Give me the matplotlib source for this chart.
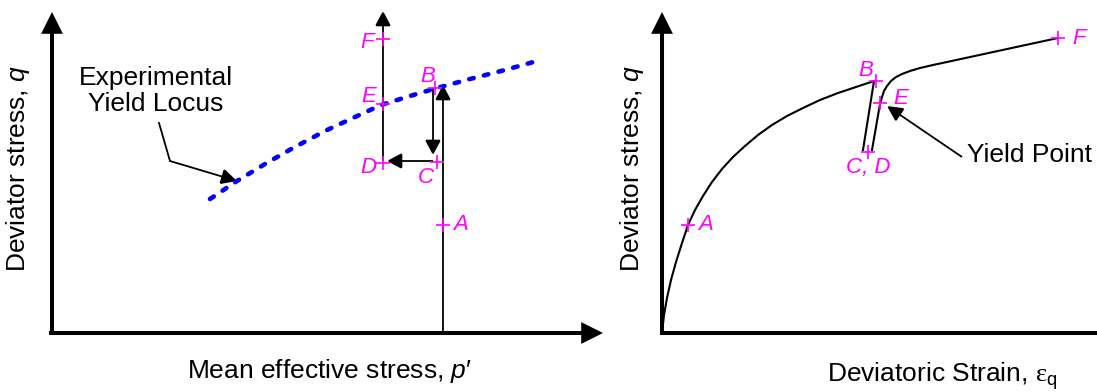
import matplotlib
matplotlib.use("Agg")
import matplotlib.pyplot as plt
from matplotlib.patches import FancyArrowPatch

plt.rcParams['font.family'] = ['Liberation Sans', 'DejaVu Sans']
plt.rcParams['mathtext.fontset'] = 'custom'
plt.rcParams['mathtext.rm'] = 'Liberation Sans'
plt.rcParams['mathtext.it'] = 'Liberation Sans:italic'
plt.rcParams['mathtext.cal'] = 'Liberation Serif'

# ---------------- stress path in p'-q space ----------------
state_names = ["A", "B", "C", "D", "E", "F"]
p_state = [391, 383, 385, 331, 331, 331]
q_state = [108, 245, 171, 170, 229, 294]

# path legs (start, end)
load_p, load_q = [391, 391], [0, 248]        # O -> B  (shearing up)
unload_p, unload_q = [381, 381], [245, 178]  # B -> C  (unloading)
shift_p, shift_q = [381, 335], [172, 172]    # C -> D  (reduce p')
reload_p, reload_q = [331, 331], [172, 322]  # D -> F  (reloading)

# experimental yield locus
locus_p = [158, 185, 213, 241, 273, 303, 329, 358, 385, 418, 453, 485]
locus_q = [134, 152, 169, 185, 202, 216, 228, 237, 245, 254, 263, 272]

# ---------------- stress-strain response ----------------
strain_names = ["A", "B", "C, D", "E", "F"]
eps_state = [26, 214, 206, 218, 396]
qs_state = [108, 252, 181, 230, 295]

load_eps = [0, 2, 5, 9, 14, 20, 26, 33, 41, 50, 60, 71, 83, 96, 110, 125,
            141, 158, 176, 194, 212]
load_qs = [0, 18, 35, 53, 71, 90, 108, 123, 137, 151, 164, 176, 187, 198,
           208, 217, 225, 233, 240, 246, 252]
unl_eps = [212, 201]
unl_qs = [252, 183]
rel_eps = [210, 218, 220, 222, 225, 229, 234, 240, 248, 258, 271, 285, 396]
rel_qs = [183, 229, 236, 242, 247, 252, 256, 259, 262, 265, 268, 271, 295]

MAG = (1, 0, 1)
W, H = 1097, 392
fig = plt.figure(figsize=(W / 100, H / 100), dpi=100)

axL = fig.add_axes([0, 0, 610 / W, 1])
axL.set_xlim(-52, 558)
axL.set_ylim(-59, 333)
axR = fig.add_axes([610 / W, 0, 487 / W, 1])
axR.set_xlim(-52, 435)
axR.set_ylim(-59, 333)
for ax in (axL, axR):
    ax.axis('off')


def arrow(ax, x, y, lw, hl, hw, clip=False):
    a = FancyArrowPatch((x[0], y[0]), (x[1], y[1]),
                        arrowstyle=f"-|>,head_length={hl},head_width={hw}",
                        mutation_scale=1, lw=lw, color='black',
                        shrinkA=0, shrinkB=0, joinstyle='miter',
                        capstyle='butt', clip_on=clip)
    ax.add_patch(a)


# axes with arrowheads
arrow(axL, [0, 0], [0, 321], 2.9, 11, 5.5)
arrow(axL, [0, 551], [0, 0], 2.9, 11, 5.5)
axL.plot([-1, 0], [0, 0], color='black', lw=2.9, solid_capstyle='projecting')
arrow(axR, [0, 0], [0, 321], 2.9, 11, 5.5)
axR.plot([0, 440], [0, 0], color='black', lw=2.9, solid_capstyle='projecting')

# stress path legs
for lp, lq in ((load_p, load_q), (unload_p, unload_q),
               (shift_p, shift_q), (reload_p, reload_q)):
    arrow(axL, lp, lq, 1.3, 9, 4.8)

# yield locus
axL.plot(locus_p, locus_q, color=(0, 0, 1), lw=3.3,
         linestyle=(0, (1.0, 2.3)), dash_capstyle='round')

# state points
axL.plot(p_state, q_state, linestyle='none', marker='+', ms=10, mew=1.2,
         color=MAG, zorder=5)
offL = {"A": (10, 0, 'left'), "B": (-7, 11, 'center'), "C": (-11, -15, 'center'),
        "D": (-15, -4, 'center'), "E": (-14, 8, 'center'), "F": (-16, -3, 'center')}
for n, p, q in zip(state_names, p_state, q_state):
    dx, dy, ha = offL[n]
    axL.annotate(n, (p, q), xytext=(dx, dy), textcoords='offset pixels',
                 ha=ha, va='center', color=MAG, fontsize=16, style='italic')

# yield locus callout
axL.text(104, 242, "Experimental\nYield Locus", ha='center', va='center',
         fontsize=19, linespacing=1.12)
axL.plot([107, 118], [210, 172], color='black', lw=1.3)
arrow(axL, [118, 185], [172, 152], 1.3, 9.5, 4.8)

axL.text(-34, 165, "Deviator stress, $\\mathit{q}$", rotation=90,
         ha='center', va='center', fontsize=19)
axL.text(277, -45, "Mean effective stress, $\\mathit{p}$\u2032", ha='center',
         va='baseline', fontsize=19)

# stress-strain curve
axR.plot(load_eps, load_qs, color='black', lw=1.5, solid_joinstyle='round')
axR.plot(unl_eps, unl_qs, color='black', lw=1.5)
axR.plot(rel_eps, rel_qs, color='black', lw=1.5, solid_joinstyle='round')

axR.plot(eps_state, qs_state, linestyle='none', marker='+', ms=10, mew=1.2,
         color=MAG, zorder=5)
offR = {"A": (10, 0, 'left'), "B": (-10, 11, 'center'), "C, D": (0, -15, 'center'),
        "E": (13, 5, 'left'), "F": (14, 0, 'left')}
for n, e, q in zip(strain_names, eps_state, qs_state):
    dx, dy, ha = offR[n]
    axR.annotate(n, (e, q), xytext=(dx, dy), textcoords='offset pixels',
                 ha=ha, va='center', color=MAG, fontsize=16, style='italic')

axR.text(305, 178, "Yield Point", ha='left', va='center', fontsize=19)
arrow(axR, [300, 225], [176, 227], 1.3, 9.5, 4.8)

axR.text(-30, 165, "Deviator stress, $\\mathit{q}$", rotation=90,
         ha='center', va='center', fontsize=19)
axR.text(280, -49, "Deviatoric Strain, $\\mathcal{\u03b5}_{\\mathrm{q}}$",
         ha='center', va='baseline', fontsize=19)

fig.savefig("out.png", dpi=100)
